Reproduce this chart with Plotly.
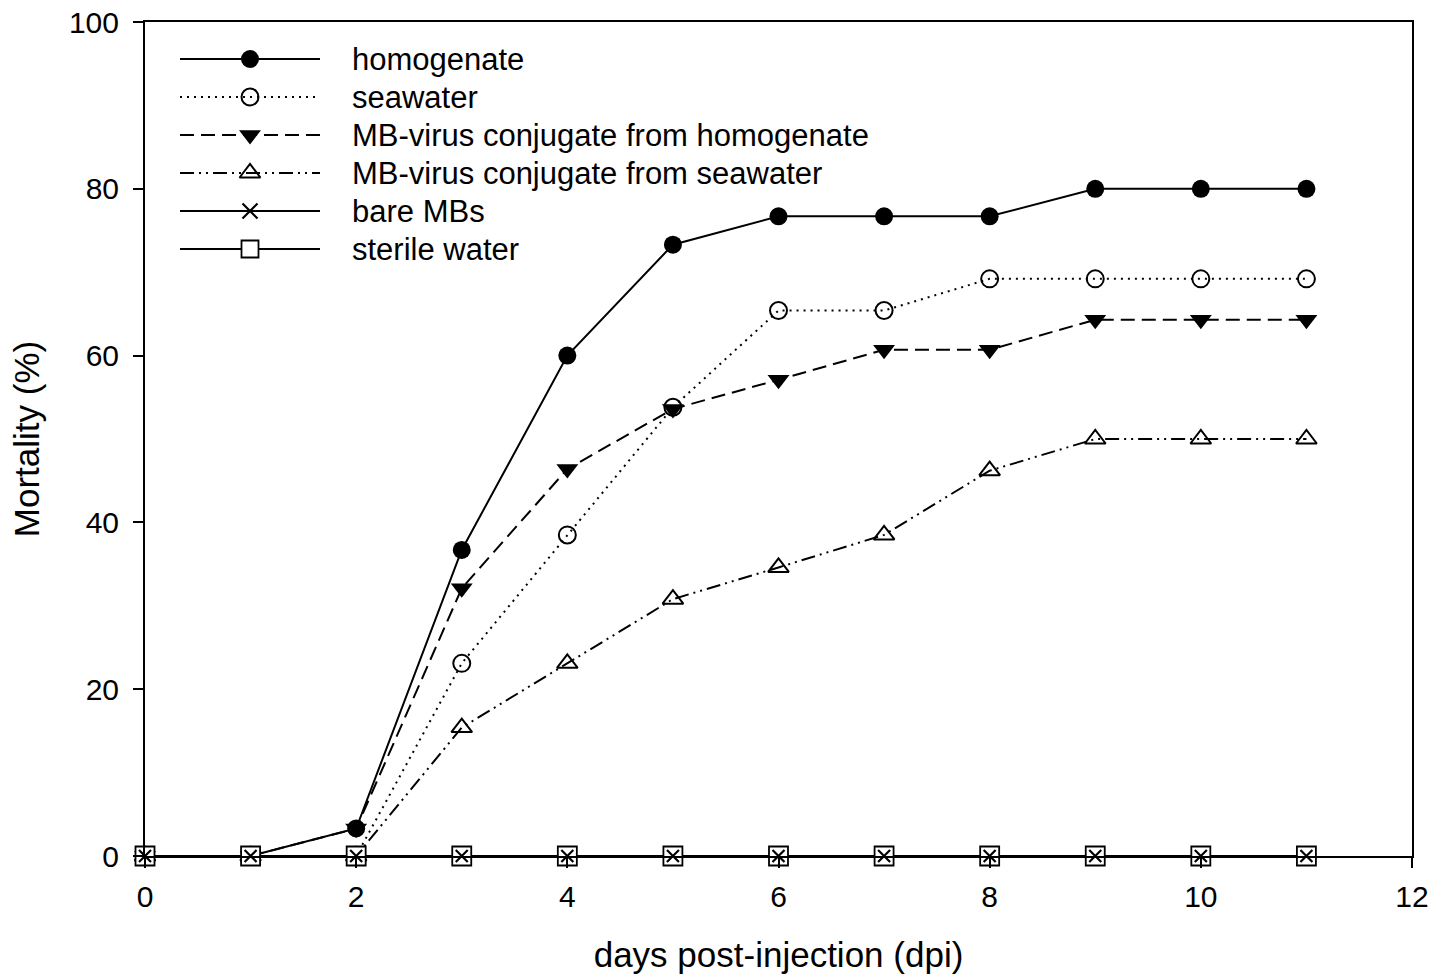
import plotly.graph_objects as go

days = [0, 1, 2, 3, 4, 5, 6, 7, 8, 9, 10, 11]
homogenate = [0, 0, 3.3, 36.7, 60.0, 73.3, 76.7, 76.7, 76.7, 80.0, 80.0, 80.0]
seawater = [0, 0, 0, 23.1, 38.5, 53.8, 65.4, 65.4, 69.2, 69.2, 69.2, 69.2]
mb_homogenate = [0, 0, 3.3, 32.1, 46.4, 53.6, 57.1, 60.7, 60.7, 64.3, 64.3, 64.3]
mb_seawater = [0, 0, 0, 15.4, 23.1, 30.8, 34.6, 38.5, 46.2, 50.0, 50.0, 50.0]
bare_mbs = [0, 0, 0, 0, 0, 0, 0, 0, 0, 0, 0, 0]
sterile_water = [0, 0, 0, 0, 0, 0, 0, 0, 0, 0, 0, 0]

x_ticks = [0, 2, 4, 6, 8, 10, 12]
y_ticks = [0, 20, 40, 60, 80, 100]

FONT = "Liberation Sans, Arial, sans-serif"

styles = {
    "homogenate": dict(dash="solid", symbol="circle", size=18, color="black", lw=0),
    "seawater": dict(dash="2px,5px", symbol="circle-open", size=17, color="black", lw=2),
    "MB-virus conjugate from homogenate": dict(dash="14px,7px", symbol="triangle-down", size=19, color="black", lw=0),
    "MB-virus conjugate from seawater": dict(dash="14px,5px,2px,5px,2px,5px", symbol="triangle-up-open", size=18, color="black", lw=2),
    "bare MBs": dict(dash="solid", symbol="x-thin", size=12, color="black", lw=2.2),
    "sterile water": dict(dash="solid", symbol="square", size=19, color="white", lw=1.8),
}

series = {
    "homogenate": homogenate,
    "seawater": seawater,
    "MB-virus conjugate from homogenate": mb_homogenate,
    "MB-virus conjugate from seawater": mb_seawater,
    "bare MBs": bare_mbs,
    "sterile water": sterile_water,
}

fig = go.Figure()

draw_order = ["seawater", "MB-virus conjugate from seawater", "MB-virus conjugate from homogenate",
              "homogenate", "sterile water", "bare MBs"]
for name in draw_order:
    s = styles[name]
    mode = "markers" if name == "bare MBs" else "lines+markers"
    fig.add_trace(go.Scatter(
        x=days, y=series[name], name=name, mode=mode,
        line=dict(color="black", width=2, dash=s["dash"]),
        marker=dict(symbol=s["symbol"], size=s["size"], color=s["color"],
                    line=dict(color="black", width=s["lw"])),
        cliponaxis=False, showlegend=False,
    ))

# custom legend drawn in pixel coordinates on an overlay axis
legend_order = ["homogenate", "seawater", "MB-virus conjugate from homogenate",
                "MB-virus conjugate from seawater", "bare MBs", "sterile water"]
row_y = [59, 97, 135, 173, 211, 249]
for name, ry in zip(legend_order, row_y):
    s = styles[name]
    fig.add_trace(go.Scatter(
        x=[180, 320], y=[ry, ry], mode="lines", xaxis="x2", yaxis="y2",
        line=dict(color="black", width=2, dash=s["dash"]), showlegend=False, hoverinfo="skip",
    ))
    msize = s["size"] - 2 if name == "sterile water" else s["size"]
    fig.add_trace(go.Scatter(
        x=[250], y=[ry], mode="markers", xaxis="x2", yaxis="y2",
        marker=dict(symbol=s["symbol"], size=msize + (3 if name == "bare MBs" else 0), color=s["color"],
                    line=dict(color="black", width=s["lw"])),
        showlegend=False, hoverinfo="skip",
    ))
    fig.add_annotation(x=350, y=ry, xref="x2", yref="y2", text=name, showarrow=False,
                       xanchor="left", yanchor="middle",
                       font=dict(family=FONT, size=31, color="black"))

fig.update_layout(
    width=1445, height=976,
    margin=dict(l=145, r=33, t=22, b=120, autoexpand=False),
    paper_bgcolor="white", plot_bgcolor="white",
    font=dict(family=FONT, color="black"),
    xaxis=dict(
        range=[0, 12], tickvals=x_ticks, ticktext=[str(v) for v in x_ticks],
        showline=True, linecolor="black", linewidth=2, mirror=True,
        ticks="outside", ticklen=10, tickwidth=2, tickcolor="black",
        showgrid=False, zeroline=False, ticklabelstandoff=3, automargin=False,
        tickfont=dict(family=FONT, size=30, color="black"),
        title=dict(text="days post-injection (dpi)", standoff=30,
                   font=dict(family=FONT, size=35, color="black")),
    ),
    yaxis=dict(
        range=[0, 100], tickvals=y_ticks, ticktext=[str(v) for v in y_ticks],
        showline=True, linecolor="black", linewidth=2, mirror=True,
        ticks="outside", ticklen=10, tickwidth=2, tickcolor="black",
        showgrid=False, zeroline=False, ticklabelstandoff=8, automargin=False,
        tickfont=dict(family=FONT, size=30, color="black"),
        title=dict(text="Mortality (%)", standoff=19,
                   font=dict(family=FONT, size=35, color="black")),
    ),
    xaxis2=dict(range=[145, 1412], overlaying="x", anchor="y2", visible=False, fixedrange=True),
    yaxis2=dict(range=[856, 22], overlaying="y", anchor="x2", visible=False, fixedrange=True),
)

fig.write_html("out.html")
